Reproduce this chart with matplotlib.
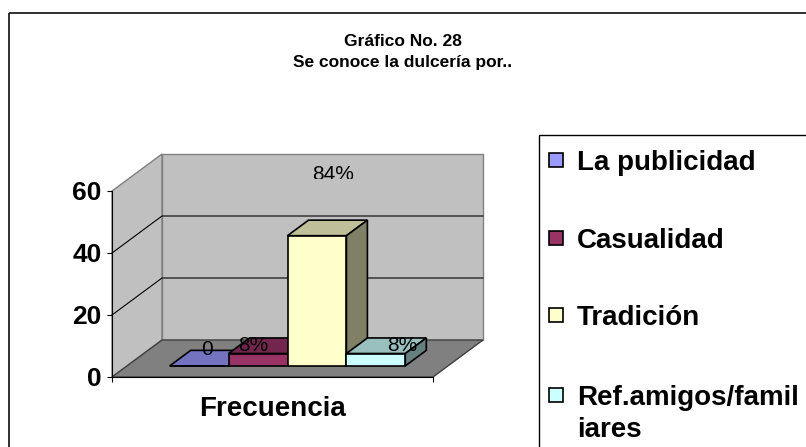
import matplotlib
matplotlib.use("Agg")
import matplotlib.pyplot as plt
from matplotlib.colors import to_rgb
from matplotlib.patches import Polygon, Rectangle

plt.rcParams['font.family'] = ['Liberation Sans', 'DejaVu Sans']

# data
title_lines = ["Gráfico No. 28", "Se conoce la dulcería por.."]
category = "Frecuencia"
series = ["La publicidad", "Casualidad", "Tradición", "Ref.amigos/familiares"]
values = [0, 4, 42, 4]
labels = ["0", "8%", "84%", "8%"]
colors = ["#9999FF", "#993366", "#FFFFCC", "#CCFFFF"]
yticks = [0, 20, 40, 60]

# layout (pixels of the 806x447 picture)
W, H = 806, 447
X0, X1 = 112, 433          # front edge of floor
Y0, YTOP = 377, 191        # value 0 and value 60 on front axis
DXP, DYP = 50, 37          # depth of the 3d box
lab_dx = [-0.009, -0.049, 0.017, 0.048]
lab_dy = [2.9, 0.2, 17.1, 0.1]


def shade(c, k):
    return tuple(k * v for v in to_rgb(c))


fig = plt.figure(figsize=(W / 100, H / 100), dpi=100)

# background layer: border, title, legend
bg = fig.add_axes([0, 0, 1, 1])
bg.set_xlim(0, W)
bg.set_ylim(H, 0)
bg.axis('off')
bg.add_patch(Rectangle((9, 13), 900, 500, fill=False, ec='#202020', lw=1.3))
bg.text(403, 42, title_lines[0], ha='center', va='center', fontsize=12.5, fontweight='bold')
bg.text(403, 62, title_lines[1], ha='center', va='center', fontsize=12.5, fontweight='bold')

bg.add_patch(Rectangle((539, 135), 400, 400, fill=False, ec='black', lw=1))
leg_y = [160, 238, 315, 395]
for name, c, cy in zip(series, colors, leg_y):
    bg.add_patch(Rectangle((549, cy - 7), 14, 14, fc=c, ec='black', lw=1.2))
    first, rest = name[:16], name[16:]
    bg.text(577, cy + 10, first, ha='left', va='baseline', fontsize=20, fontweight='bold')
    if rest:
        bg.text(577, cy + 42, rest, ha='left', va='baseline', fontsize=20, fontweight='bold')

# plot area
xu = X1 - X0
yu = (Y0 - YTOP) / 60
ax = fig.add_axes([X0 / W, (H - Y0) / H, (X1 + DXP - X0) / W, (Y0 - YTOP + DYP) / H])
ax.set_xlim(0, (X1 + DXP - X0) / xu)
ax.set_ylim(0, (Y0 - YTOP + DYP) / yu)
ax.patch.set_alpha(0)
DX = DXP / xu
DY = DYP / yu
ymax = yticks[-1]

wall = '#C0C0C0'
edge = '#808080'
ax.add_patch(Polygon([(0, 0), (0, ymax), (DX, ymax + DY), (DX, DY)],
                     fc=wall, ec=edge, lw=1, zorder=1, clip_on=False))
ax.add_patch(Polygon([(DX, DY), (DX, ymax + DY), (1 + DX, ymax + DY), (1 + DX, DY)],
                     fc=wall, ec=edge, lw=1, zorder=1, clip_on=False))
ax.add_patch(Polygon([(0, 0), (1, 0), (1 + DX, DY), (DX, DY)],
                     fc='#808080', ec='#404040', lw=1, zorder=1.5, clip_on=False))
for v in yticks[1:-1]:
    ax.plot([0, DX, 1 + DX], [v, v + DY, v + DY], color='black', lw=0.8, zorder=1.2, clip_on=False)

gap = 0.133
bw = (1 - 2 * gap) / len(values)
f, d = 0.3, 0.42
for i, (v, c, lab) in enumerate(zip(values, colors, labels)):
    x0 = gap + i * bw + f * DX
    y0 = f * DY
    z = 3 + i
    ax.add_patch(Polygon([(x0, y0 + v), (x0 + bw, y0 + v), (x0 + bw + d * DX, y0 + v + d * DY),
                          (x0 + d * DX, y0 + v + d * DY)],
                         fc=shade(c, 0.75), ec='black', lw=1.2, zorder=z, clip_on=False))
    ax.add_patch(Polygon([(x0 + bw, y0), (x0 + bw, y0 + v), (x0 + bw + d * DX, y0 + v + d * DY),
                          (x0 + bw + d * DX, y0 + d * DY)],
                         fc=shade(c, 0.5), ec='black', lw=1.2, zorder=z, clip_on=False))
    ax.add_patch(Rectangle((x0, y0), bw, v, fc=c, ec='black', lw=1.2, zorder=z + 0.5, clip_on=False))
    tx = x0 + bw / 2 + d / 2 * DX + lab_dx[i]
    ty = y0 + v + d / 2 * DY + lab_dy[i]
    t = ax.text(tx, ty, lab, ha='center', va='center', fontsize=15, zorder=z + 0.25)
    if v == max(values):
        # the label of the tall bar is cut off at its lower part
        clip = Rectangle((0, ty - 1.2), 2, 30, transform=ax.transData)
        t.set_clip_on(True)
        t.set_clip_path(clip)

for s in ['top', 'right']:
    ax.spines[s].set_visible(False)
ax.spines['left'].set_bounds(0, ymax)
ax.spines['bottom'].set_bounds(0, 1)
ax.spines['left'].set_zorder(2)
ax.spines['bottom'].set_zorder(2)
ax.set_yticks(yticks)
ax.set_yticklabels([str(t) for t in yticks], fontsize=19, fontweight='bold')
ax.set_xticks([0, 1])
ax.set_xticklabels(['', ''])
ax.tick_params(direction='out', length=3.6, width=0.8, pad=4)
ax.text(0.5, -10.3, category, ha='center', va='center', fontsize=20, fontweight='bold')

fig.savefig('out.png', dpi=100)
